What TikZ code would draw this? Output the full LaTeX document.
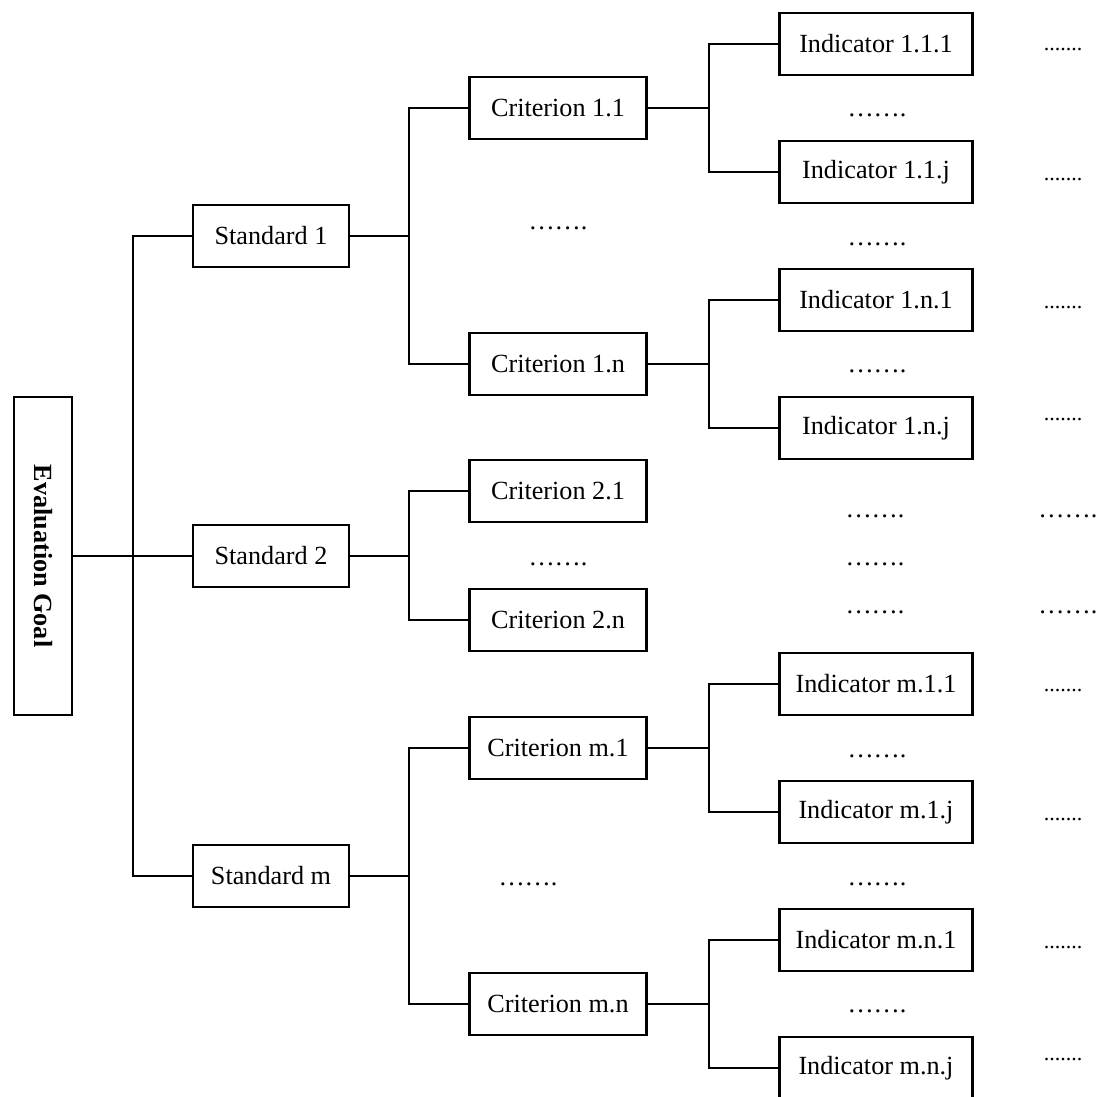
\documentclass[tikz,border=0pt]{standalone}
\usepackage{fontspec}
\usepackage{graphicx}
\setmainfont{Liberation Serif}
\usetikzlibrary{positioning}

\begin{document}
\begin{tikzpicture}[
    x=0.5pt,y=-0.5pt,
    box/.style={draw,line width=1.15pt,inner sep=0pt,minimum height=31pt,
      font=\fontsize{13.1}{15}\selectfont},
    goalbox/.style={box,minimum width=29pt,minimum height=159pt},
    stdbox/.style={box,minimum width=78pt},
    critbox/.style={box,minimum width=88.5pt},
    indbox/.style={box,minimum width=96.5pt},
    link/.style={line width=1.15pt},
    gap/.style={inner sep=0pt,anchor=base,font=\fontsize{13.1}{15}\selectfont},
    tightgap/.style={inner sep=0pt,anchor=base,font=\fontsize{11}{13}\selectfont}
  ]
    \useasboundingbox (0,0) rectangle (1097,1097);

    % goal and standards
    \node[goalbox] (goal) at (43,556) {\rotatebox{-90}{\bfseries Evaluation Goal}};
    \node[stdbox] (s1) at (271,236) {Standard 1};
    \node[stdbox] (s2) at (271,556) {Standard 2};
    \node[stdbox] (sm) at (271,876) {Standard m};

    % criteria
    \node[critbox] (c11) at (558,108) {Criterion 1.1};
    \node[critbox] (c1n) at (558,364) {Criterion 1.n};
    \node[critbox] (c21) at (558,491) {Criterion 2.1};
    \node[critbox] (c2n) at (558,620) {Criterion 2.n};
    \node[critbox] (cm1) at (558,748) {Criterion m.1};
    \node[critbox] (cmn) at (558,1004) {Criterion m.n};

    % indicators
    \node[indbox] (i111) at (876,44) {Indicator 1.1.1};
    \node[indbox] (i11j) at (876,172) {Indicator 1.1.j};
    \node[indbox] (i1n1) at (876,300) {Indicator 1.n.1};
    \node[indbox] (i1nj) at (876,428) {Indicator 1.n.j};
    \node[indbox] (im11) at (876,684) {Indicator m.1.1};
    \node[indbox] (im1j) at (876,812) {Indicator m.1.j};
    \node[indbox] (imn1) at (876,940) {Indicator m.n.1};
    \node[indbox] (imnj) at (876,1068) {Indicator m.n.j};

    % trunk
    \coordinate (trunk) at (133,556);
    \draw[link] (goal.east) -- (s2.west);
    \draw[link] (s1.west) -| (trunk) |- (sm.west);

    % standard -> criteria
    \foreach \s/\a/\b in {s1/c11/c1n, s2/c21/c2n, sm/cm1/cmn}{
      \draw[link] (\s.east) -- ++(59,0) coordinate (\s j);
      \draw[link] (\a.west) -| (\s j) |- (\b.west);
    }

    % criterion -> indicators
    \foreach \c/\a/\b in {c11/i111/i11j, c1n/i1n1/i1nj, cm1/im11/im1j, cmn/imn1/imnj}{
      \draw[link] (\c.east) -- ++(61,0) coordinate (\c j);
      \draw[link] (\a.west) -| (\c j) |- (\b.west);
    }

    % omitted items
    \foreach \x/\y [count=\k] in {558/229, 558/565, 528/885,
        877/117, 877/245, 877/372, 875/517, 875/565, 875/613,
        877/757, 877/885, 877/1012}
      \node[gap] (dot\k) at (\x,\y) {…….};
    \foreach \y [count=\k] in {51, 180, 308, 420, 691, 820, 948, 1060}
      \node[tightgap] (tail\k) at (1063,\y) {.......};
    \node[gap,anchor=base west] (tailA) at (1038,517) {…….};
    \node[gap,anchor=base west] (tailB) at (1038,613) {…….};
  \end{tikzpicture}
\end{document}
